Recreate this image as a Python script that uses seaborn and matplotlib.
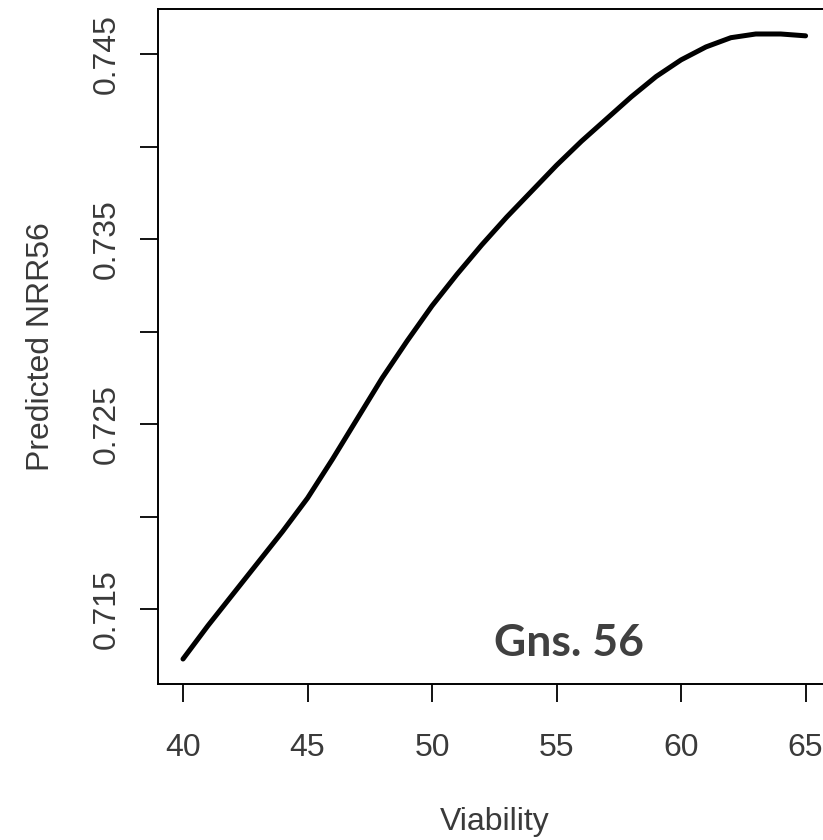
import matplotlib
matplotlib.use("Agg")
import matplotlib.pyplot as plt
import seaborn as sns
import pandas as pd

viability = [40, 41, 42, 43, 44, 45, 46, 47, 48, 49, 50, 51, 52,
             53, 54, 55, 56, 57, 58, 59, 60, 61, 62, 63, 64, 65]
predicted_nrr56 = [0.7123, 0.7141, 0.7158, 0.7175, 0.7192, 0.7210, 0.7231, 0.7253,
                   0.7275, 0.7295, 0.7314, 0.7331, 0.7347, 0.7362, 0.7376, 0.7390,
                   0.7403, 0.7415, 0.7427, 0.7438, 0.7447, 0.7454, 0.7459, 0.7461,
                   0.7461, 0.7460]

x_ticks = [40, 45, 50, 55, 60, 65]
y_ticks = [0.715, 0.720, 0.725, 0.730, 0.735, 0.740, 0.745]
y_tick_labels = ["0.715", "", "0.725", "", "0.735", "", "0.745"]
annotation = "Gns. 56"

df = pd.DataFrame({"Viability": viability, "Predicted NRR56": predicted_nrr56})

sns.set_style("ticks")
plt.rcParams["font.family"] = ["Liberation Sans", "DejaVu Sans"]

fig = plt.figure(figsize=(8.23, 8.40), dpi=100)
ax = fig.add_axes([0.1921, 0.1857, 0.817, 0.8036])

sns.lineplot(data=df, x="Viability", y="Predicted NRR56", color="black",
             linewidth=3.6, ax=ax)

# R style limits: 4% padding around the data
ymin, ymax = min(predicted_nrr56), max(predicted_nrr56)
pad = 0.04 * (ymax - ymin)
ax.set_xlim(39, 66)
ax.set_ylim(ymin - pad, ymax + pad)

ax.set_xticks(x_ticks)
ax.set_xticklabels([str(v) for v in x_ticks])
ax.set_yticks(y_ticks)
ax.set_yticklabels(y_tick_labels, rotation=90, va="center")

text_color = "#3a3a3a"
ax.tick_params(axis="both", direction="out", length=13, width=1.3,
               labelsize=23, labelcolor=text_color, color="black")
ax.tick_params(axis="x", pad=22)
ax.tick_params(axis="y", pad=13)

for side in ["left", "bottom", "top", "right"]:
    ax.spines[side].set_visible(True)
    ax.spines[side].set_linewidth(1.4)
    ax.spines[side].set_color("black")

ax.set_xlabel("Viability", fontsize=23, color=text_color, labelpad=32)
ax.set_ylabel("Predicted NRR56", fontsize=23, color=text_color, labelpad=26)

ax.text(55.5, 0.71315, annotation, fontsize=32, fontweight="bold",
        family=["Lato", "DejaVu Sans"], color="#404040", ha="center", va="center")

fig.savefig("out.png", dpi=100)
plt.close(fig)
